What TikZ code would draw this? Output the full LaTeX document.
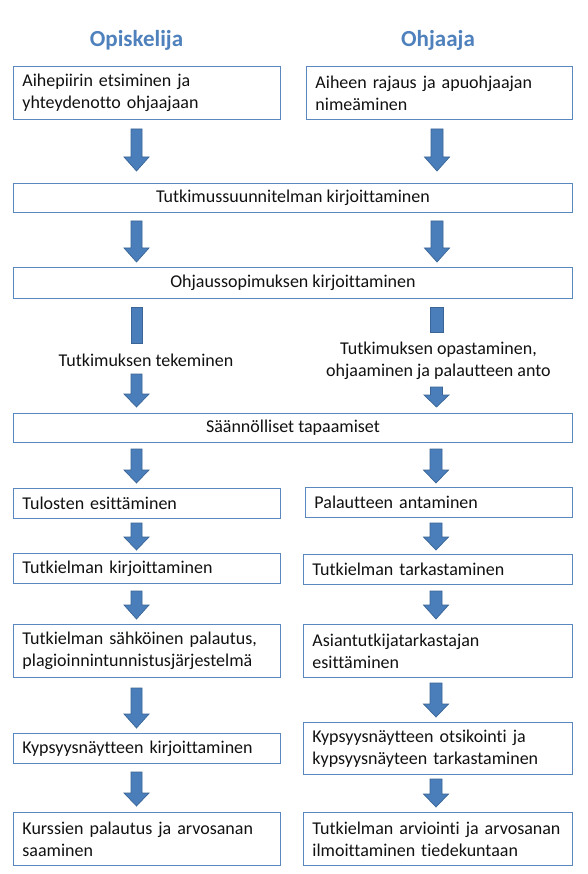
\documentclass[tikz,border=0pt]{standalone}
\usepackage{fontspec}
\setmainfont{Carlito}[Ligatures={NoCommon}]
\definecolor{titleblue}{HTML}{4F81BD}
\definecolor{boxline}{HTML}{5B87BF}
\definecolor{arrfill}{HTML}{4A7EBB}
\definecolor{arrline}{HTML}{3A6596}
\definecolor{txt}{HTML}{111111}
\newcommand{\blockarrow}[5]{% x, top, headstart, tip, shaft half width
  \filldraw[arrowshape] ({#1-#5},#2) -- ({#1+#5},#2) -- ({#1+#5},#3) -- ({#1+12.5},#3) -- (#1,#4) -- ({#1-12.5},#3) -- ({#1-#5},#3) -- cycle;}
\newcommand{\blockshaft}[4]{% x, top, bottom, half width
  \filldraw[arrowshape] ({#1-#4},#2) rectangle ({#1+#4},#3);}
\begin{document}
\begin{tikzpicture}[x=1pt,y=-1pt,
  arrowshape/.style={fill=arrfill, draw=arrline, line width=0.7pt, line join=miter},
  basebox/.style={draw=boxline, line width=0.9pt, fill=white, inner ysep=0pt, text=txt,
    font=\fontsize{18}{22}\selectfont, anchor=north west},
  lbox/.style={basebox, align=left, inner xsep=9pt},
  wbox/.style={basebox, align=center, inner xsep=0pt, minimum width=559pt, minimum height=29pt},
  lab/.style={font=\fontsize{18}{22}\selectfont, align=center, inner sep=0pt, text=txt},
  coltitle/.style={font=\bfseries\fontsize{23}{28}\selectfont, text=titleblue, inner sep=0pt}
]
\useasboundingbox (0,0) rectangle (587,874);
\fill[white] (0,0) rectangle (587,874);

% titles
\node[coltitle] (t1) at (136.5,40) {Opiskelija};
\node[coltitle] (t2) at (438,40) {Ohjaaja};

% row 1
\node[lbox, text width=249pt, minimum height=53pt] (b1l) at (13,66) {Aihepiirin etsiminen ja\\yhteydenotto ohjaajaan};
\node[lbox, text width=248pt, minimum height=53pt] (b1r) at (306,66) {Aiheen rajaus ja apuohjaajan\\nimeäminen};

\blockarrow{136.5}{129}{157}{171}{5.5}
\blockarrow{437}{129}{157}{171}{6}

\node[wbox] (w1) at (13,183) {Tutkimussuunnitelman kirjoittaminen};

\blockarrow{136.5}{221}{248}{262}{5.5}
\blockarrow{437}{221}{248}{262}{6}

\node[wbox, minimum height=31pt] (w2) at (13,267) {Ohjaussopimuksen kirjoittaminen};

% split arrows with labels
\blockshaft{136.5}{307}{343}{5.5}
\node[lab] (ll) at (146,360) {Tutkimuksen tekeminen};
\blockarrow{136.5}{374}{394}{407}{5.5}

\blockshaft{436.5}{307}{332}{6.5}
\node[lab] (rl) at (438.5,361) {Tutkimuksen opastaminen,\\ohjaaminen ja palautteen anto};
\blockarrow{436.5}{387}{395}{407}{6}

\node[wbox] (w3) at (13,413) {Säännölliset tapaamiset};

\blockarrow{136.5}{449}{470}{483}{5.5}
\blockarrow{436}{449}{470}{483}{6}

% row 5
\node[lbox, text width=249pt, minimum height=30pt] (b5l) at (13,488) {Tulosten esittäminen};
\node[lbox, text width=249pt, minimum height=30pt] (b5r) at (305,487) {Palautteen antaminen};

\blockarrow{136.5}{523}{537}{550}{5.5}
\blockarrow{436}{523}{537}{550}{6}

\node[lbox, text width=249pt, minimum height=30pt] (b6l) at (13,553) {Tutkielman kirjoittaminen};
\node[lbox, text width=251pt, minimum height=30pt] (b6r) at (303,554) {Tutkielman tarkastaminen};

\blockarrow{136.5}{591}{605}{619}{5.5}
\blockarrow{436}{591}{605}{619}{6}

\node[lbox, text width=249pt, minimum height=53pt] (b7l) at (13,624) {Tutkielman sähköinen palautus,\\plagioinnintunnistusjärjestelmä};
\node[lbox, text width=251pt, minimum height=53pt] (b7r) at (303,624) {Asiantutkijatarkastajan\\esittäminen};

\blockarrow{136.5}{688}{714}{728}{5.5}
\blockarrow{436}{683}{704}{717}{6}

\node[lbox, text width=249pt, minimum height=30pt] (b8l) at (13,733) {Kypsyysnäytteen kirjoittaminen};
\node[lbox, text width=251pt, minimum height=52pt] (b8r) at (303,722) {Kypsyysnäytteen otsikointi ja\\kypsyysnäyteen tarkastaminen};

\blockarrow{136.5}{772}{793}{806}{5.5}
\blockarrow{436}{779}{794}{807}{6}

\node[lbox, text width=249pt, minimum height=53pt] (b9l) at (13,812) {Kurssien palautus ja arvosanan\\saaminen};
\node[lbox, text width=251pt, minimum height=53pt] (b9r) at (303,812) {Tutkielman arviointi ja arvosanan\\ilmoittaminen tiedekuntaan};
\end{tikzpicture}
\end{document}
